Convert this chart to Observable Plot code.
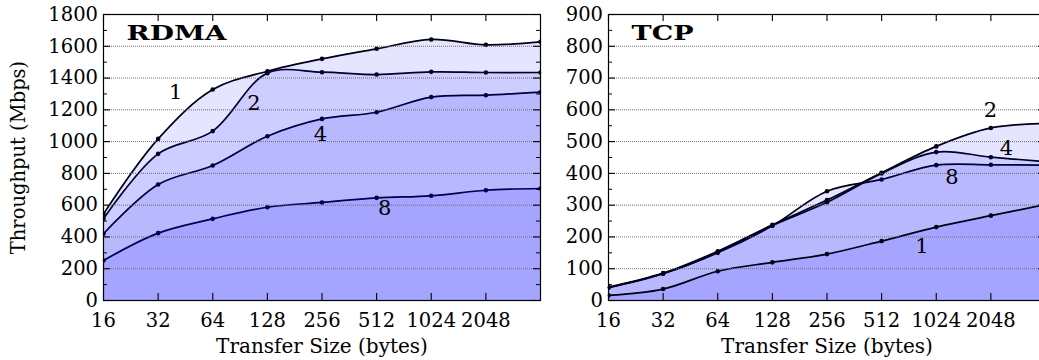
<!DOCTYPE html>
<html><head><meta charset="utf-8">
<script src="https://cdn.jsdelivr.net/npm/d3@7"></script>
<script src="https://cdn.jsdelivr.net/npm/@observablehq/plot@0.6"></script>
<style>
html,body{margin:0;padding:0;background:#fff;}
#wrap{position:relative;width:1039px;height:360px;overflow:hidden;background:#fff;}
#wrap svg{position:absolute;top:0;}
</style></head><body><div id="wrap"></div>
<script>
// ---- data ----
const sizes = [16, 32, 64, 128, 256, 512, 1024, 2048, 4096];
const rdma1 = [545, 1017, 1328, 1443, 1521, 1584, 1643, 1609, 1628];
const rdma2 = [515, 923, 1066, 1431, 1437, 1422, 1439, 1435, 1435];
const rdma4 = [420, 730, 850, 1034, 1143, 1185, 1280, 1292, 1311];
const rdma8 = [252, 424, 514, 587, 617, 646, 659, 694, 705];
const tcp1 = [16, 36, 92, 120, 146, 187, 231, 267, 302];
const tcp2 = [42, 86, 155, 238, 316, 402, 485, 543, 557];
const tcp4 = [41, 85, 152, 236, 309, 400, 467, 451, 437];
const tcp8 = [40, 84, 150, 235, 344, 381, 426, 427, 426];
const xTicks = [16, 32, 64, 128, 256, 512, 1024, 2048];
const rdmaYTicks = [0, 200, 400, 600, 800, 1000, 1200, 1400, 1600, 1800];
const rdmaYMinor = [100, 300, 500, 700, 900, 1100, 1300, 1500, 1700];
const tcpYTicks = [0, 100, 200, 300, 400, 500, 600, 700, 800, 900];
const tcpYMinor = [50, 150, 250, 350, 450, 550, 650, 750, 850];
const rdmaLabelText = ["1", "2", "4", "8"];
const rdmaLabelX = [40, 108, 251, 567];
const rdmaLabelY = [1311, 1243, 1045, 579];
const tcpLabelText = ["2", "4", "8", "1"];
const tcpLabelX = [2035, 2493, 1251, 855];
const tcpLabelY = [598, 480, 389, 171];
const xTitle = "Transfer Size (bytes)";
const yTitle = "Throughput (Mbps)";

const FONT = "'DejaVu Serif', serif";

function panel(cfg) {
  const H = 360, mt = 14, mb = 60;
  const frameW = cfg.width - cfg.marginLeft - cfg.marginRight;
  const frameH = H - mt - mb;
  const marks = [];
  cfg.series.forEach((vals) => {
    const data = sizes.map((x, i) => ({x, y: vals[i]}));
    marks.push(Plot.line(data, {x: "x", y: "y", stroke: "black", strokeWidth: 1.7, curve: "catmull-rom"}));
    marks.push(Plot.dot(data, {x: "x", y: "y", r: 2.3, fill: "black", stroke: "none", clip: true}));
    marks.push(Plot.areaY(data, {x: "x", y: "y", fill: "#0000ff", fillOpacity: 0.1, curve: "catmull-rom"}));
  });
  marks.push(Plot.ruleY(cfg.yTicks.filter(v => v > 0 && v < cfg.yMax), {y: d => d, stroke: "#6e6e6e", strokeWidth: 1, strokeDasharray: "1,1"}));
  const labels = cfg.labelText.map((t, i) => ({t, x: cfg.labelX[i], y: cfg.labelY[i]}));
  marks.push(Plot.text(labels, {x: "x", y: "y", text: "t", fontSize: 21, fill: "black", fontFamily: FONT}));
  marks.push(Plot.frame({stroke: "black", strokeWidth: 1.2}));
  // inward ticks
  marks.push(Plot.tickX(xTicks, {x: d => d, insetTop: frameH - 7, stroke: "black", strokeWidth: 1.1}));
  marks.push(Plot.tickX(xTicks, {x: d => d, insetBottom: frameH - 7, stroke: "black", strokeWidth: 1.1}));
  marks.push(Plot.tickY(cfg.yTicks, {y: d => d, insetRight: frameW - 7, stroke: "black", strokeWidth: 1.1}));
  marks.push(Plot.tickY(cfg.yMinor, {y: d => d, insetRight: frameW - 4, stroke: "black", strokeWidth: 1}));
  marks.push(Plot.tickY(cfg.yTicks, {y: d => d, insetLeft: frameW - 7, stroke: "black", strokeWidth: 1.1}));
  marks.push(Plot.tickY(cfg.yMinor, {y: d => d, insetLeft: frameW - 4, stroke: "black", strokeWidth: 1}));
  marks.push(Plot.axisX(xTicks, {tickSize: 0, tickPadding: 13, tickFormat: d => String(d), label: null, fontSize: 19.5, fontFamily: FONT}));
  marks.push(Plot.axisY(cfg.yTicks, {tickSize: 0, tickPadding: 5.5, tickFormat: d => String(d), label: null, fontSize: 19.5, fontFamily: FONT}));
  marks.push(Plot.text([xTitle], {text: d => d, frameAnchor: "bottom", textAnchor: "middle", lineAnchor: "middle", dy: 46.5, fontSize: 20, fill: "black", fontFamily: FONT}));
  if (cfg.showY) {
    marks.push(Plot.text([yTitle], {text: d => d, frameAnchor: "left", textAnchor: "middle", lineAnchor: "middle", rotate: -90, dx: -85, fontSize: 19.5, fill: "black", fontFamily: FONT}));
  }
  marks.push(Plot.text([cfg.title], {text: d => d, frameAnchor: "top-left", dx: 23, dy: 10.4, textAnchor: "start", lineAnchor: "top", fontSize: 21, fontWeight: "bold", fill: "black", fontFamily: FONT}));
  const svg = Plot.plot({
    width: cfg.width, height: H,
    marginTop: mt, marginBottom: mb, marginLeft: cfg.marginLeft, marginRight: cfg.marginRight,
    x: {type: "log", base: 2, domain: [16, 4096]},
    y: {domain: [0, cfg.yMax]},
    style: {fontFamily: FONT, fontSize: "19.5px", background: "transparent", color: "black", maxWidth: "none", overflow: "visible"},
    marks
  });
  svg.style.left = cfg.left + "px";
  d3.select(svg).selectAll("text").each(function() {
    if (this.textContent === cfg.title) {
      this.setAttribute("textLength", cfg.titleLen);
      this.setAttribute("lengthAdjust", "spacingAndGlyphs");
    }
  });
  document.getElementById("wrap").appendChild(svg);
}

panel({left: 0, width: 545, marginLeft: 103, marginRight: 5, yMax: 1800,
  series: [rdma8, rdma4, rdma2, rdma1], yTicks: rdmaYTicks, yMinor: rdmaYMinor,
  labelText: rdmaLabelText, labelX: rdmaLabelX, labelY: rdmaLabelY,
  title: "RDMA", titleLen: 100, showY: true});
panel({left: 545, width: 500, marginLeft: 63, marginRight: 0, yMax: 900,
  series: [tcp8, tcp4, tcp2, tcp1], yTicks: tcpYTicks, yMinor: tcpYMinor,
  labelText: tcpLabelText, labelX: tcpLabelX, labelY: tcpLabelY,
  title: "TCP", titleLen: 62, showY: false});
</script></body></html>
